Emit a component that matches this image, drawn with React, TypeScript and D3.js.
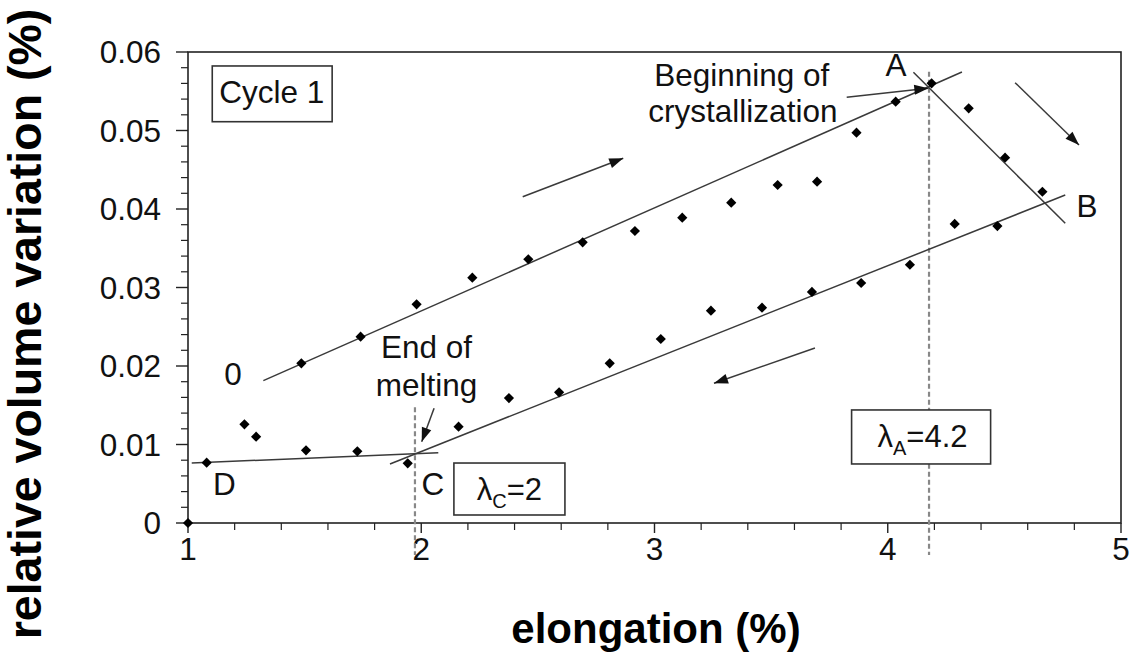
import React from 'react';
import * as d3 from 'd3';

// ---- data ----
const loadingElong = [1.486, 1.74, 1.98, 2.219, 2.459, 2.692, 2.916, 3.119, 3.329, 3.528, 3.697, 3.866, 4.034, 4.188];
const loadingVol = [0.02034, 0.02373, 0.02786, 0.03125, 0.0336, 0.03576, 0.0372, 0.0389, 0.0408, 0.04306, 0.04348, 0.04972, 0.05367, 0.05601];
const unloadingElong = [4.347, 4.503, 4.663, 4.47, 4.287, 4.095, 3.886, 3.675, 3.461, 3.242, 3.027, 2.808, 2.591, 2.376, 2.16, 1.942, 1.726, 1.506, 1.292, 1.242, 1.08, 1.0];
const unloadingVol = [0.05283, 0.04654, 0.0422, 0.03783, 0.0381, 0.0329, 0.03057, 0.02943, 0.02743, 0.02705, 0.02344, 0.02034, 0.01665, 0.01592, 0.01227, 0.0076, 0.00913, 0.00926, 0.011, 0.01257, 0.00768, 0];

// trend lines (start x, start y, end x, end y)
const fitStartX = [1.323, 4.11, 1.866, 1.016];
const fitStartY = [0.01813, 0.05741, 0.00752, 0.00764];
const fitEndX = [4.318, 4.761, 4.761, 2.073];
const fitEndY = [0.05745, 0.03818, 0.04178, 0.00896];

// vertical markers
const markerX = [1.973, 4.177];
const markerTopY = [0.01474, 0.0575];

// arrows (from -> tip)
const arrowFromX = [3.824, 2.055, 2.435, 4.546, 3.688];
const arrowFromY = [0.05423, 0.01461, 0.04157, 0.05609, 0.02229];
const arrowToX = [4.174, 2.002, 2.866, 4.82, 3.255];
const arrowToY = [0.05538, 0.01036, 0.04646, 0.04815, 0.0178];

// point labels
const letterText = ['A', 'B', 'C', 'D', '0'];
const letterX = [4.035, 4.854, 2.05, 1.156, 1.193];
const letterY = [0.05694, 0.03902, 0.00357, 0.00357, 0.01758];

// annotations
const noteText = ['Beginning of', 'crystallization', 'End of', 'melting'];
const noteX = [3.374, 3.379, 2.0225, 2.023];
const noteY = [0.05567, 0.05108, 0.02108, 0.01618];

const xTicks = [1, 2, 3, 4, 5];
const yTicks = [0, 0.01, 0.02, 0.03, 0.04, 0.05, 0.06];
const yTickLabels = ['0', '0.01', '0.02', '0.03', '0.04', '0.05', '0.06'];

const W = 1141;
const H = 663;
const FONT = '"Liberation Sans", Arial, Helvetica, sans-serif';

export default function App() {
  const x = d3.scaleLinear().domain([1, 5]).range([188, 1121]);
  const y = d3.scaleLinear().domain([0, 0.06]).range([523, 52]);

  const diamond = d3.symbol().type(d3.symbolSquare).size(52)();

  const xMinor = d3.range(1, 5.0001, 0.2).filter((v) => Math.abs(v - Math.round(v)) > 1e-6);
  const yMinor = d3.range(0, 0.06001, 0.002).filter((v) => Math.abs(v * 100 - Math.round(v * 100)) > 1e-6);

  const arrowHead = (x1: number, y1: number, x2: number, y2: number) => {
    const dx = x2 - x1;
    const dy = y2 - y1;
    const len = Math.hypot(dx, dy);
    const ux = dx / len;
    const uy = dy / len;
    const L = 14;
    const w = 5;
    const bx = x2 - ux * L;
    const by = y2 - uy * L;
    return `${x2},${y2} ${bx - uy * w},${by + ux * w} ${bx + uy * w},${by - ux * w}`;
  };

  const lineColor = '#3a3a3a';

  return (
    <div style={{ position: 'absolute', left: 0, top: 0 }}>
      <svg width={W} height={H} style={{ display: 'block', background: '#fff' }} fontFamily={FONT}>
        {/* plot frame */}
        <rect x={x(1)} y={y(0.06)} width={x(5) - x(1)} height={y(0) - y(0.06)} fill="none" stroke="#222" strokeWidth={1.6} />

        {/* y ticks */}
        {yTicks.map((t) => (
          <line key={'ym' + t} x1={x(1) - 12} x2={x(1)} y1={y(t)} y2={y(t)} stroke="#222" strokeWidth={1.4} />
        ))}
        {yMinor.map((t) => (
          <line key={'yn' + t} x1={x(1) - 7} x2={x(1)} y1={y(t)} y2={y(t)} stroke="#222" strokeWidth={1.2} />
        ))}
        {yTicks.map((t, i) => (
          <text key={'yl' + t} x={161} y={y(t)} dy="0.36em" textAnchor="end" fontSize={31.5} fill="#111">
            {yTickLabels[i]}
          </text>
        ))}

        {/* x ticks */}
        {xTicks.map((t) => (
          <line key={'xm' + t} x1={x(t)} x2={x(t)} y1={y(0)} y2={y(0) + 10} stroke="#222" strokeWidth={1.4} />
        ))}
        {xMinor.map((t) => (
          <line key={'xn' + t} x1={x(t)} x2={x(t)} y1={y(0)} y2={y(0) + 7} stroke="#222" strokeWidth={1.2} />
        ))}
        {xTicks.map((t) => (
          <text key={'xl' + t} x={x(t)} y={560} textAnchor="middle" fontSize={31.5} fill="#111">
            {t}
          </text>
        ))}

        {/* axis titles */}
        <text x={656} y={643} textAnchor="middle" fontSize={42} fontWeight="bold" fill="#000">
          elongation (%)
        </text>
        <text transform="translate(41,324) rotate(-90)" textAnchor="middle" fontSize={46.5} fontWeight="bold" fill="#000">
          relative volume variation (%)
        </text>

        {/* dashed markers */}
        {markerX.map((m, i) => (
          <line key={'dm' + i} x1={x(m)} x2={x(m)} y1={y(markerTopY[i])} y2={555} stroke="#888" strokeWidth={2.2} strokeDasharray="5,3" />
        ))}

        {/* trend lines */}
        {fitStartX.map((v, i) => (
          <line key={'fl' + i} x1={x(v)} y1={y(fitStartY[i])} x2={x(fitEndX[i])} y2={y(fitEndY[i])} stroke={lineColor} strokeWidth={1.5} />
        ))}

        {/* data points */}
        {loadingElong.map((v, i) => (
          <path key={'lp' + i} d={diamond!} transform={`translate(${x(v)},${y(loadingVol[i])}) rotate(45)`} fill="#000" />
        ))}
        {unloadingElong.map((v, i) => (
          <path key={'up' + i} d={diamond!} transform={`translate(${x(v)},${y(unloadingVol[i])}) rotate(45)`} fill="#000" />
        ))}

        {/* arrows */}
        {arrowFromX.map((v, i) => {
          const x1 = x(v);
          const y1 = y(arrowFromY[i]);
          const x2 = x(arrowToX[i]);
          const y2 = y(arrowToY[i]);
          return (
            <g key={'ar' + i}>
              <line x1={x1} y1={y1} x2={x2} y2={y2} stroke={lineColor} strokeWidth={1.5} />
              <polygon points={arrowHead(x1, y1, x2, y2)} fill="#111" />
            </g>
          );
        })}

        {/* letters */}
        {letterText.map((t, i) => (
          <text key={'lt' + i} x={x(letterX[i])} y={y(letterY[i])} textAnchor="middle" fontSize={31.5} fill="#111">
            {t}
          </text>
        ))}

        {/* notes */}
        {noteText.map((t, i) => (
          <text key={'nt' + i} x={x(noteX[i])} y={y(noteY[i])} textAnchor="middle" fontSize={31.5} fill="#111">
            {t}
          </text>
        ))}

        {/* Cycle 1 box */}
        <rect x={x(1.104)} y={y(0.05822)} width={x(1.618) - x(1.104)} height={y(0.05112) - y(0.05822)} fill="#fff" stroke="#333" strokeWidth={1.6} />
        <text x={x(1.359)} y={y(0.05346)} textAnchor="middle" fontSize={31.5} fill="#111">
          Cycle 1
        </text>

        {/* lambda C box */}
        <rect x={x(2.14)} y={y(0.00764)} width={x(2.616) - x(2.14)} height={y(0.00102) - y(0.00764)} fill="#fff" stroke="#333" strokeWidth={1.6} />
        <text x={x(2.378)} y={y(0.00293)} textAnchor="middle" fontSize={31} fill="#111">
          λ<tspan fontSize={20} dy={8}>C</tspan>
          <tspan dy={-8}>=2</tspan>
        </text>

        {/* lambda A box */}
        <rect x={x(3.845)} y={y(0.0144)} width={x(4.441) - x(3.845)} height={y(0.00752) - y(0.0144)} fill="#fff" stroke="#333" strokeWidth={1.6} />
        <text x={x(4.149)} y={y(0.00972)} textAnchor="middle" fontSize={31} fill="#111">
          λ<tspan fontSize={20} dy={8}>A</tspan>
          <tspan dy={-8}>=4.2</tspan>
        </text>
      </svg>
    </div>
  );
}
